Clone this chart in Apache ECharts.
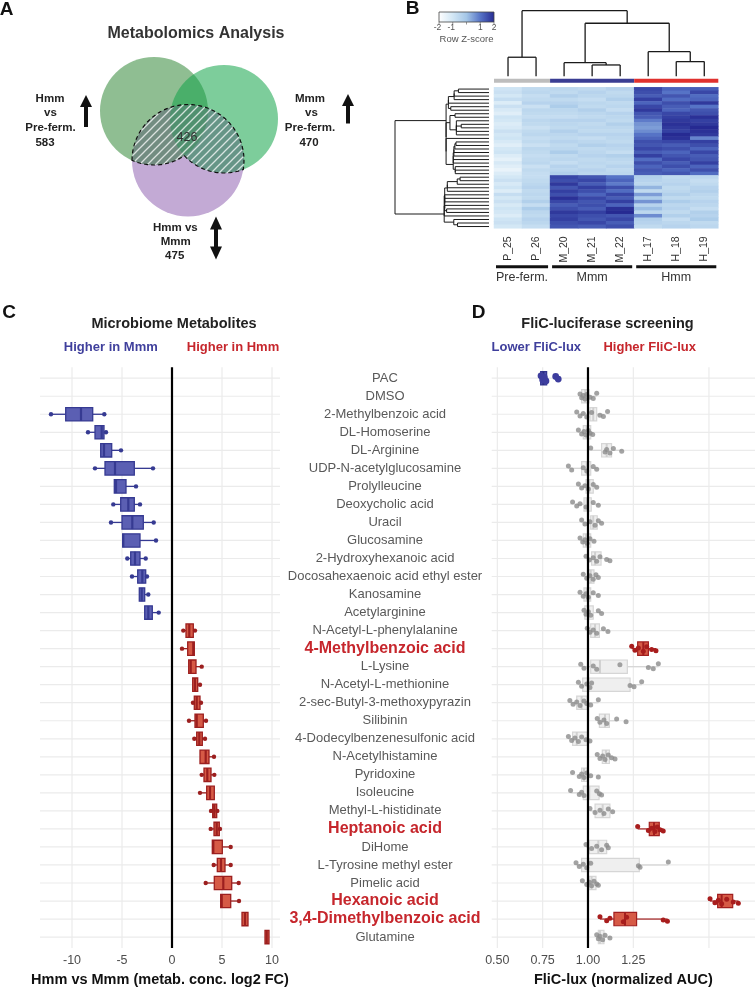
<!DOCTYPE html>
<html><head><meta charset="utf-8">
<script src="https://cdn.jsdelivr.net/npm/echarts@6/dist/echarts.min.js"></script>
<style>html,body{margin:0;padding:0;background:#fff}#c{width:756px;height:992px}</style>
</head><body><div id="c"></div>
<script>
// ================= DATA =================
// Panel A (Venn)
const vennCounts = [583, 470, 475];
const vennShared = 426;

// Panel B (heatmap)
const sampleNames = ['P_25','P_26','M_20','M_21','M_22','H_17','H_18','H_19'];
const sampleGroups = ['Pre-ferm.','Pre-ferm.','Mmm','Mmm','Mmm','Hmm','Hmm','Hmm'];
const zKeyTicks = [-2,-1,1,2];
// hclust-style merges: negative = leaf (1-based), positive = earlier merge (1-based); third = height
const colMerge = [
  [-1,-2,2.89],[-4,-5,1.71],[-3,2,2.06],[-7,-8,2.22],[-6,4,3.74],[3,5,8.08],[1,6,10]
];
const zRows = [
  [-0.9,-0.6,-0.5,-0.6,-0.4,1.6,1.2,1.3],
  [-0.8,-0.5,-0.6,-0.4,-0.6,1.5,1.0,1.6],
  [-1.0,-0.7,-0.3,-0.5,-0.5,1.3,1.4,1.1],
  [-0.7,-0.6,-0.6,-0.7,-0.3,1.7,1.1,1.2],
  [-1.2,-0.4,-0.4,-0.5,-0.6,1.2,1.5,1.8],
  [-0.8,-0.8,-0.2,-0.6,-0.5,1.6,1.3,1.0],
  [-1.1,-0.5,-0.5,-0.3,-0.7,1.8,1.2,1.4],
  [-1.3,-0.6,-0.6,-0.5,-0.4,1.4,1.6,1.5],
  [-0.9,-0.7,-0.7,-0.6,-0.5,1.3,1.7,1.9],
  [-1.0,-0.5,-0.4,-0.4,-0.6,0.9,1.8,1.7],
  [-1.2,-0.6,-0.5,-0.6,-0.3,0.6,1.9,1.8],
  [-1.1,-0.8,-0.6,-0.5,-0.5,0.5,1.8,2.0],
  [-0.8,-0.6,-0.3,-0.6,-0.6,0.7,1.7,1.9],
  [-1.0,-0.5,-0.5,-0.4,-0.4,1.0,2.0,1.8],
  [-0.9,-0.7,-0.6,-0.7,-0.5,1.2,1.9,0.8],
  [-1.1,-0.6,-0.4,-0.5,-0.6,1.5,1.6,1.7],
  [-1.3,-0.8,-0.6,-0.3,-0.4,1.4,1.3,1.5],
  [-1.0,-0.5,-0.5,-0.6,-0.5,1.6,1.5,1.2],
  [-0.9,-0.6,-0.2,-0.5,-0.7,1.3,1.2,1.6],
  [-1.2,-0.7,-0.6,-0.4,-0.3,1.7,1.4,1.3],
  [-1.4,-0.6,-0.5,-0.6,-0.5,1.1,1.6,1.4],
  [-1.1,-0.5,-0.7,-0.5,-0.6,1.5,1.3,1.7],
  [-1.3,-0.8,-0.4,-0.6,-0.4,1.2,1.5,1.2],
  [-1.5,-0.6,-0.5,-0.4,-0.6,1.4,1.2,1.5],
  [-1.2,-0.7,-0.3,-0.5,-0.5,1.3,1.4,1.1],
  [-1.0,-0.7,1.6,1.4,1.0,-0.3,-0.6,-0.5],
  [-0.8,-0.6,1.5,1.6,1.2,-0.4,-0.5,-0.7],
  [-1.1,-0.5,1.8,1.3,0.9,-0.5,-0.4,-0.6],
  [-0.9,-0.4,1.4,1.7,1.5,0.2,-0.6,-0.4],
  [-1.2,-0.6,1.7,1.5,1.1,-0.6,-0.5,-0.3],
  [-0.7,-0.5,1.5,1.2,1.6,0.5,-0.3,-0.5],
  [-1.0,-0.6,1.9,1.6,1.3,-0.2,-0.6,-0.6],
  [-0.8,-0.3,1.6,1.4,1.7,0.6,-0.2,-0.4],
  [-1.1,-0.7,1.3,1.5,1.2,-0.4,-0.5,-0.5],
  [-0.9,-0.2,1.5,1.3,1.9,0.1,-0.4,-0.7],
  [-1.0,-0.5,1.8,1.7,2.0,-0.5,-0.6,-0.3],
  [-1.2,-0.6,1.6,1.5,1.4,0.7,-0.3,-0.4],
  [-0.9,-0.4,1.7,1.4,1.6,-0.3,-0.7,-0.2],
  [-0.8,-0.5,1.5,1.6,1.3,-0.4,-0.5,-0.6],
  [-1.0,-0.7,1.4,1.3,1.5,-0.6,-0.4,-0.5]
];

// Panels C & D (shared categories)
const metabolites = ['PAC','DMSO','2-Methylbenzoic acid','DL-Homoserine','DL-Arginine','UDP-N-acetylglucosamine','Prolylleucine','Deoxycholic acid','Uracil','Glucosamine','2-Hydroxyhexanoic acid','Docosahexaenoic acid ethyl ester','Kanosamine','Acetylarginine','N-Acetyl-L-phenylalanine','4-Methylbenzoic acid','L-Lysine','N-Acetyl-L-methionine','2-sec-Butyl-3-methoxypyrazin','Silibinin','4-Dodecylbenzenesulfonic acid','N-Acetylhistamine','Pyridoxine','Isoleucine','Methyl-L-histidinate','Heptanoic acid','DiHome','L-Tyrosine methyl ester','Pimelic acid','Hexanoic acid','3,4-Dimethylbenzoic acid','Glutamine'];
const highlighted = ['4-Methylbenzoic acid','Heptanoic acid','Hexanoic acid','3,4-Dimethylbenzoic acid'];
const lowerHits = ['PAC'];

// Panel C: log2 FC box stats
const fcLow  = [null,null,-12.1,-8.4,-7.13,-7.7,-5.77,-5.87,-6.1,-4.93,-4.47,-4.0,-3.27,-2.73,1.13,1.0,1.67,2.07,2.1,1.7,2.23,2.8,2.97,2.8,3.9,3.87,4.03,4.17,3.37,4.87,7.0,9.3];
const fcQ1   = [null,null,-10.63,-7.7,-7.13,-6.7,-5.77,-5.13,-5.0,-4.93,-4.13,-3.43,-3.27,-2.73,1.4,1.57,1.67,2.07,2.23,2.3,2.47,2.8,3.2,3.47,4.07,4.2,4.03,4.53,4.23,4.87,7.0,9.3];
const fcMed  = [null,null,-9.1,-7.03,-6.8,-5.7,-5.6,-4.37,-3.97,-4.87,-3.7,-2.97,-3.03,-2.37,1.73,2.13,1.87,2.3,2.47,2.47,2.73,3.37,3.53,3.8,4.23,4.47,4.13,4.9,5.13,4.97,7.3,9.47];
const fcQ3   = [null,null,-7.93,-6.8,-6.03,-3.77,-4.6,-3.77,-2.87,-3.2,-3.2,-2.63,-2.73,-1.97,2.13,2.23,2.4,2.57,2.8,3.13,3.03,3.7,3.9,4.23,4.47,4.73,5.03,5.3,5.97,5.87,7.6,9.7];
const fcHigh = [null,null,-6.77,-6.6,-5.1,-1.9,-3.6,-3.2,-1.83,-1.6,-2.63,-2.5,-2.37,-1.33,2.3,2.23,2.97,2.8,2.9,3.4,3.3,4.2,4.23,4.23,4.53,4.8,5.87,5.87,6.67,6.7,7.6,9.7];
const fcTicks = [-10,-5,0,5,10];

// Panel D: FliC-lux normalized AUC
const luxQ1  = [0.739,0.965,1.011,0.974,1.075,0.965,0.989,0.978,1.015,0.974,1.02,1.002,0.978,0.983,1.015,1.274,1.015,0.971,0.938,1.063,0.915,1.079,0.965,0.974,1.039,1.338,1.007,0.965,1.007,1.715,1.143,1.057];
const luxMed = [0.754,0.985,1.029,0.993,1.103,0.993,1.007,0.993,1.029,0.989,1.039,1.015,0.993,1.002,1.039,1.305,1.066,1.002,0.965,1.094,0.938,1.099,0.978,1.007,1.081,1.364,1.057,1.002,1.02,1.737,1.204,1.066];
const luxQ3  = [0.772,1.006,1.048,1.015,1.13,1.015,1.029,1.018,1.051,1.015,1.072,1.033,1.015,1.029,1.063,1.333,1.217,1.232,0.996,1.118,0.996,1.118,0.996,1.061,1.121,1.393,1.103,1.283,1.044,1.798,1.268,1.088];
const luxPoints = [
  [0.741,0.75,0.759,0.768,0.822,0.836],
  [0.956,0.965,0.974,0.983,0.993,1.011,1.029,1.048],
  [0.938,0.956,0.974,0.993,1.02,1.066,1.085,1.108],
  [0.947,0.965,0.978,0.989,1.002,1.011,1.026],
  [1.015,1.094,1.103,1.121,1.14,1.186],
  [0.892,0.91,0.974,0.993,1.029,1.048],
  [0.947,0.965,0.983,1.002,1.029,1.048],
  [0.915,0.938,0.956,0.989,1.029,1.057],
  [0.965,0.983,1.011,1.039,1.057,1.075],
  [0.956,0.971,0.983,0.996,1.011,1.033],
  [0.989,1.007,1.029,1.048,1.066,1.103,1.121],
  [0.974,0.993,1.011,1.029,1.044,1.057],
  [0.956,0.974,0.989,1.002,1.029,1.057],
  [0.978,0.989,1.002,1.015,1.057,1.075],
  [0.996,1.011,1.029,1.048,1.085,1.11],
  [1.241,1.259,1.278,1.305,1.324,1.351,1.375],
  [0.96,0.978,1.029,1.048,1.176,1.333,1.36,1.388],
  [0.947,0.965,0.993,1.011,1.02,1.232,1.254,1.296],
  [0.9,0.918,0.938,0.956,0.978,0.993,1.015,1.057],
  [1.051,1.066,1.088,1.103,1.158,1.21],
  [0.892,0.91,0.928,0.947,0.965,0.989,1.011],
  [1.051,1.066,1.081,1.094,1.112,1.13,1.149],
  [0.915,0.952,0.965,0.978,0.993,1.015,1.057],
  [0.904,0.952,0.965,0.978,1.048,1.063,1.075],
  [1.011,1.039,1.066,1.088,1.112,1.136],
  [1.274,1.333,1.351,1.369,1.382,1.397,1.415],
  [0.989,1.02,1.048,1.075,1.103,1.112],
  [0.934,0.952,0.974,0.993,1.015,1.278,1.287,1.443],
  [0.969,0.993,1.007,1.02,1.033,1.048,1.057],
  [1.673,1.7,1.719,1.737,1.765,1.801,1.829],
  [1.066,1.103,1.121,1.195,1.213,1.415,1.438],
  [1.048,1.057,1.066,1.081,1.094,1.121]
];
const luxTicks = [0.5,0.75,1,1.25];
const luxGridLines = [0.5,0.75,1.25,1.667];

// ================= STYLE / HELPERS =================
const FONT = "'Liberation Sans', Arial, Helvetica, sans-serif";
const BLUE = '#3f3f9c', RED = '#c6262c';
const JIT = [-0.13, 0.09, -0.04, 0.15, -0.1, 0.05, 0.12, -0.16, 0.02];

function T(x, y, text, size, o) {
  o = o || {};
  return {type:'text', x:x, y:y, z:10, silent:true, style:{text:text, fontSize:size, fontFamily:FONT,
    fontWeight:o.bold?'bold':'normal', fill:o.color||'#222', align:o.align||'center', verticalAlign:'middle'}};
}

// ---- Venn geometry (circles: centre + radius) ----
const CL = {c:[154,111], r:54}, CR = {c:[224,119], r:54}, CB = {c:[188,160.5], r:56};
function inter(A, B) {
  const dx=B.c[0]-A.c[0], dy=B.c[1]-A.c[1], d=Math.hypot(dx,dy);
  const a=(A.r*A.r-B.r*B.r+d*d)/(2*d), h=Math.sqrt(A.r*A.r-a*a);
  const mx=A.c[0]+a*dx/d, my=A.c[1]+a*dy/d;
  return [[mx-h*dy/d, my+h*dx/d],[mx+h*dy/d, my-h*dx/d]];
}
const ang=(C,p)=>Math.atan2(p[1]-C.c[1],p[0]-C.c[0]);
function arc(C,a0,a1){const p=[];for(let i=0;i<=48;i++){const a=a0+(a1-a0)*i/48;p.push([C.c[0]+C.r*Math.cos(a),C.c[1]+C.r*Math.sin(a)]);}return p;}
const iLB = inter(CL,CB), iRB = inter(CR,CB), iLR = inter(CL,CR);
const P1 = iLB[0][0] < iLB[1][0] ? iLB[0] : iLB[1];
const P2 = iRB[0][0] > iRB[1][0] ? iRB[0] : iRB[1];
const P3 = iLR[0][1] > iLR[1][1] ? iLR[0] : iLR[1];
let b0=ang(CB,P1), b1=ang(CB,P2); while(b1<=b0) b1+=2*Math.PI;
let r0=ang(CR,P2), r1=ang(CR,P3); while(r1<=r0) r1+=2*Math.PI;
let l0=ang(CL,P3), l1=ang(CL,P1); while(l1<=l0) l1+=2*Math.PI;
const hatchPts = arc(CB,b0,b1).concat(arc(CR,r0,r1), arc(CL,l0,l1));

const pc = document.createElement('canvas'); pc.width = 8; pc.height = 8;
const pctx = pc.getContext('2d');
pctx.strokeStyle = 'rgba(255,255,255,0.75)'; pctx.lineWidth = 1.3;
pctx.beginPath(); pctx.moveTo(-1,9); pctx.lineTo(9,-1); pctx.moveTo(-1,1); pctx.lineTo(1,-1); pctx.moveTo(7,9); pctx.lineTo(9,7); pctx.stroke();

function upArrow(x, yTop, yBot) {
  return [
    {type:'rect', shape:{x:x-2, y:yTop+10, width:4, height:yBot-yTop-10}, style:{fill:'#111'}},
    {type:'polygon', shape:{points:[[x,yTop],[x-6,yTop+12],[x+6,yTop+12]]}, style:{fill:'#111'}}
  ];
}
function dblArrow(x, yTop, yBot) {
  return [
    {type:'rect', shape:{x:x-2, y:yTop+10, width:4, height:yBot-yTop-20}, style:{fill:'#111'}},
    {type:'polygon', shape:{points:[[x,yTop],[x-6,yTop+13],[x+6,yTop+13]]}, style:{fill:'#111'}},
    {type:'polygon', shape:{points:[[x,yBot],[x-6,yBot-13],[x+6,yBot-13]]}, style:{fill:'#111'}}
  ];
}

// ---- Dendrograms ----
function colDendSegs() {
  const pos=[], ht=[], segs=[];
  const nx=r=>r<0?-r-1:pos[r-1], nh=r=>r<0?0:ht[r-1];
  colMerge.forEach(function(m,i){
    const xa=nx(m[0]), xb=nx(m[1]), ha=nh(m[0]), hb=nh(m[1]), h=m[2];
    segs.push([[xa,ha],[xa,h]],[[xb,hb],[xb,h]],[[xa,h],[xb,h]]);
    pos[i]=(xa+xb)/2; ht[i]=h;
  });
  return segs;
}
// contiguous average-linkage clustering of heatmap rows; heights shown on sqrt scale
function rowDend(rows) {
  let cl = rows.map((r,i)=>({m:[i], y:i, h:0}));
  const segs=[];
  const dist=(a,b)=>{let s=0;a.m.forEach(i=>b.m.forEach(j=>{s+=Math.hypot.apply(null,rows[i].map((v,k)=>v-rows[j][k]));}));return s/(a.m.length*b.m.length);};
  while(cl.length>1){
    let bi=0, bd=Infinity;
    for(let i=0;i<cl.length-1;i++){const d=dist(cl[i],cl[i+1]); if(d<bd){bd=d;bi=i;}}
    const a=cl[bi], b=cl[bi+1], h=Math.max(Math.sqrt(bd),a.h,b.h);
    segs.push([[a.h,a.y],[h,a.y]],[[b.h,b.y],[h,b.y]],[[h,a.y],[h,b.y]]);
    cl.splice(bi,2,{m:a.m.concat(b.m), y:(a.y+b.y)/2, h:h});
  }
  return {segs:segs, root:cl[0].h};
}
const cSegs = colDendSegs();
const rD = rowDend(zRows);

function segRenderer(segs, lw) {
  return function(params, api){
    return {type:'group', children: segs.map(s=>{const a=api.coord(s[0]), b=api.coord(s[1]);
      return {type:'line', shape:{x1:a[0],y1:a[1],x2:b[0],y2:b[1]}, style:{stroke:'#1a1a1a', lineWidth:lw}};})};
  };
}

// sample groups (contiguous)
const groups = [];
sampleGroups.forEach((g,i)=>{ if(!groups.length || groups[groups.length-1].name!==g) groups.push({name:g,start:i,end:i}); else groups[groups.length-1].end=i; });
const groupColors = {'Pre-ferm.':'#bdbdbd','Mmm':'#3a3d93','Hmm':'#e0312e'};

// heatmap data
const heatData = [];
zRows.forEach((r,ri)=>r.forEach((v,ci)=>heatData.push([ci,ri,v])));
const heatColors = ['#ffffff','#d3e7f5','#a4c6e7','#5673c6','#262a92'];

// C box data
const cData = [];
metabolites.forEach((m,i)=>{ if(fcMed[i]!=null) cData.push([fcLow[i],fcQ1[i],fcMed[i],fcQ3[i],fcHigh[i],i]); });
// D data
const dData = metabolites.map((m,i)=>[luxQ1[i],luxMed[i],luxQ3[i],i]);
const dPts = [];
luxPoints.forEach((ps,i)=>ps.forEach((v,k)=>dPts.push([v,i,k])));
function luxClass(i){ return highlighted.indexOf(metabolites[i])>=0?'hi':(lowerHits.indexOf(metabolites[i])>=0?'lo':'ns'); }
function whisk(i){
  const q1=luxQ1[i], q3=luxQ3[i], iqr=q3-q1, ps=luxPoints[i];
  const inL=ps.filter(p=>p>=q1-1.5*iqr), inH=ps.filter(p=>p<=q3+1.5*iqr);
  return [Math.min(q1, Math.min.apply(null,inL)), Math.max(q3, Math.max.apply(null,inH))];
}

// gridline renderers
function hLines(params, api){
  const cs=params.coordSys, y=api.coord([0,api.value(1)])[1];
  return {type:'line', shape:{x1:cs.x,y1:y,x2:cs.x+cs.width,y2:y}, style:{stroke:'#ebebeb', lineWidth:1.2}};
}
function vLineR(color, lw){
  return function(params, api){
    const cs=params.coordSys, x=api.coord([api.value(0),0])[0];
    return {type:'line', shape:{x1:x,y1:cs.y-2,x2:x,y2:cs.y+cs.height+2}, style:{stroke:color, lineWidth:lw}};
  };
}

function renderC(params, api){
  const cat=api.value(5), lo=api.value(0), q1=api.value(1), md=api.value(2), q3=api.value(3), hi=api.value(4);
  const yc=api.coord([0,cat])[1], half=api.size([0,1])[1]*0.37;
  const X=v=>api.coord([v,cat])[0];
  const pos=md>0, fill=pos?'#d65a46':'#5b5fb3', stroke=pos?'#9c1f1f':'#363a92';
  const ch=[];
  if(lo<q1) ch.push({type:'line', shape:{x1:X(lo),y1:yc,x2:X(q1),y2:yc}, style:{stroke:stroke,lineWidth:1.3}});
  if(hi>q3) ch.push({type:'line', shape:{x1:X(q3),y1:yc,x2:X(hi),y2:yc}, style:{stroke:stroke,lineWidth:1.3}});
  ch.push({type:'rect', shape:{x:X(q1),y:yc-half,width:Math.max(1,X(q3)-X(q1)),height:2*half}, style:{fill:fill,stroke:stroke,lineWidth:1.3}});
  ch.push({type:'line', shape:{x1:X(md),y1:yc-half,x2:X(md),y2:yc+half}, style:{stroke:stroke,lineWidth:2.2}});
  if(lo<q1) ch.push({type:'circle', shape:{cx:X(lo),cy:yc,r:2.2}, style:{fill:stroke}});
  if(hi>q3) ch.push({type:'circle', shape:{cx:X(hi),cy:yc,r:2.2}, style:{fill:stroke}});
  return {type:'group', children:ch};
}
const DSTY = {
  ns:{fill:'#efefef', stroke:'#d6d6d6', med:'#d0d0d0', pt:'rgba(140,140,140,0.8)', r:2.5},
  hi:{fill:'#d65a46', stroke:'#a11f1f', med:'#a11f1f', pt:'#a81d1d', r:2.5},
  lo:{fill:'#4f52ad', stroke:'#34378f', med:'#2a2d80', pt:'#3d3d9e', r:3.4}
};
function renderDBox(params, api){
  const cat=api.value(3), q1=api.value(0), md=api.value(1), q3=api.value(2);
  const s=DSTY[luxClass(cat)], w=whisk(cat);
  const yc=api.coord([1,cat])[1], half=api.size([0,1])[1]*0.37;
  const X=v=>api.coord([v,cat])[0];
  return {type:'group', children:[
    {type:'line', shape:{x1:X(w[0]),y1:yc,x2:X(q1),y2:yc}, style:{stroke:s.stroke,lineWidth:1.2}},
    {type:'line', shape:{x1:X(q3),y1:yc,x2:X(w[1]),y2:yc}, style:{stroke:s.stroke,lineWidth:1.2}},
    {type:'rect', shape:{x:X(q1),y:yc-half,width:X(q3)-X(q1),height:2*half}, style:{fill:s.fill,stroke:s.stroke,lineWidth:1.2}},
    {type:'line', shape:{x1:X(md),y1:yc-half,x2:X(md),y2:yc+half}, style:{stroke:s.med,lineWidth:2}}
  ]};
}
function renderDPts(params, api){
  const v=api.value(0), cat=api.value(1), k=api.value(2);
  const s=DSTY[luxClass(cat)], p=api.coord([v,cat]), bw=api.size([0,1])[1];
  return {type:'circle', shape:{cx:p[0], cy:p[1]+JIT[k%JIT.length]*bw, r:s.r}, style:{fill:s.pt}};
}

// ================= GRAPHIC (panel A, titles, key) =================
const keyX = v => 439 + (v+2)/4*55;
const graphics = [
  {type:'circle', shape:{cx:CB.c[0],cy:CB.c[1],r:CB.r}, style:{fill:'#c3aad5'}},
  {type:'circle', shape:{cx:CL.c[0],cy:CL.c[1],r:CL.r}, style:{fill:'rgba(51,137,57,0.55)'}},
  {type:'circle', shape:{cx:CR.c[0],cy:CR.c[1],r:CR.r}, style:{fill:'rgba(19,164,73,0.55)'}},
  {type:'polygon', shape:{points:hatchPts}, style:{fill:'rgba(110,122,135,0.38)'}},
  {type:'polygon', shape:{points:hatchPts}, style:{fill:{image:pc, repeat:'repeat'}}},
  {type:'polygon', shape:{points:hatchPts}, style:{fill:null, stroke:'#111', lineWidth:1.2, lineDash:[4,3]}},
  T(187,138,String(vennShared),12.5,{color:'#333'}),
  T(6.5,10,'A',19,{bold:true,color:'#111'}),
  T(196,34,'Metabolomics Analysis',16,{bold:true,color:'#333'}),
  T(50,99,'Hmm',11.5,{bold:true}), T(50.5,113,'vs',11.5,{bold:true}), T(50.5,128,'Pre-ferm.',11.5,{bold:true}), T(45,143,String(vennCounts[0]),11.5,{bold:true}),
  T(310,99.3,'Mmm',11.5,{bold:true}), T(311.5,113,'vs',11.5,{bold:true}), T(310,128,'Pre-ferm.',11.5,{bold:true}), T(309,143,String(vennCounts[1]),11.5,{bold:true}),
  T(175.3,228.3,'Hmm vs',11.5,{bold:true}), T(175.8,242.3,'Mmm',11.5,{bold:true}), T(174.7,256,String(vennCounts[2]),11.5,{bold:true}),
].concat(upArrow(86,95,127), upArrow(348,94,123.5), dblArrow(216,216.5,259.5), [
  T(412.5,9,'B',19,{bold:true,color:'#111'}),
  {type:'rect', shape:{x:keyX(-2),y:12,width:keyX(2)-keyX(-2),height:10}, style:{fill:{type:'linear',x:0,y:0,x2:1,y2:0,colorStops:heatColors.map((c,i)=>({offset:i/(heatColors.length-1),color:c}))}, stroke:'#444', lineWidth:0.8}},
], zKeyTicks.concat([0]).map(v=>({type:'line', shape:{x1:keyX(v),y1:22,x2:keyX(v),y2:24.5}, style:{stroke:'#666',lineWidth:0.7}})),
zKeyTicks.map(v=>T(keyX(v)-(v<0?1.5:0),28,String(v),8.5,{color:'#555'})), [
  T(466.5,39,'Row Z-score',9.5,{color:'#555'}),
  T(9.2,312.5,'C',19,{bold:true,color:'#111'}),
  T(478.7,312.5,'D',19,{bold:true,color:'#111'}),
  T(174,324.3,'Microbiome Metabolites',14.5,{bold:true,color:'#222'}),
  T(110.8,347.7,'Higher in Mmm',13,{bold:true,color:BLUE}),
  T(233,347.7,'Higher in Hmm',13,{bold:true,color:RED}),
  T(607.5,324.3,'FliC-luciferase screening',14.5,{bold:true,color:'#222'}),
  T(536.3,347.7,'Lower FliC-lux',13,{bold:true,color:BLUE}),
  T(649.7,347.7,'Higher FliC-lux',13,{bold:true,color:RED})
]);

// ================= OPTION =================
const noAx = {axisLine:{show:false}, axisTick:{show:false}, splitLine:{show:false}};
const option = {
  animation:false,
  textStyle:{fontFamily:FONT},
  graphic:{elements:graphics},
  visualMap:{type:'continuous', show:false, min:-2, max:2, seriesIndex:0, inRange:{color:heatColors}},
  grid:[
    {left:494, top:87.3, width:224.3, height:141},
    {left:494, top:10.7, width:224.3, height:72},
    {left:395, top:87.3, width:94, height:141},
    {left:40, top:369.2, width:240, height:581.4},
    {left:491.7, top:369.2, width:263.3, height:581.4}
  ],
  xAxis:[
    Object.assign({gridIndex:0, type:'category', data:sampleNames, axisLabel:{rotate:90, interval:0, fontSize:10.5, color:'#333', margin:8}}, noAx),
    {gridIndex:1, type:'value', min:-0.5, max:7.5, show:false},
    {gridIndex:2, type:'value', min:0, max:rD.root, inverse:true, show:false},
    Object.assign({gridIndex:3, type:'value', min:-13.2, max:10.8,
      axisLabel:{customValues:fcTicks, fontSize:12.5, color:'#4d4d4d', margin:8},
      name:'Hmm vs Mmm (metab. conc. log2 FC)', nameLocation:'middle', nameGap:25,
      nameTextStyle:{fontSize:14.5, fontWeight:'bold', color:'#111'}}, noAx),
    Object.assign({gridIndex:4, type:'value', min:0.469, max:1.921,
      axisLabel:{customValues:luxTicks, formatter:v=>Number(v).toFixed(2), fontSize:12.5, color:'#4d4d4d', margin:8},
      name:'FliC-lux (normalized AUC)', nameLocation:'middle', nameGap:25,
      nameTextStyle:{fontSize:14.5, fontWeight:'bold', color:'#111'}}, noAx)
  ],
  yAxis:[
    {gridIndex:0, type:'category', data:zRows.map((r,i)=>'row'+i), inverse:true, show:false},
    {gridIndex:1, type:'value', min:-1, max:10, show:false},
    {gridIndex:2, type:'value', min:-0.5, max:zRows.length-0.5, inverse:true, show:false},
    Object.assign({gridIndex:3, type:'category', data:metabolites, inverse:true, axisLabel:{show:false}}, noAx),
    Object.assign({gridIndex:4, type:'category', data:metabolites, inverse:true,
      axisLabel:{interval:0, align:'center', margin:106.7,
        formatter:v=>highlighted.indexOf(v)>=0?'{hi|'+v+'}':'{n|'+v+'}',
        rich:{n:{fontSize:13, color:'#595959', fontFamily:FONT}, hi:{fontSize:16, fontWeight:'bold', color:RED, fontFamily:FONT}}}}, noAx)
  ],
  series:[
    {type:'heatmap', xAxisIndex:0, yAxisIndex:0, data:heatData, silent:true, itemStyle:{borderWidth:0}},
    {type:'custom', xAxisIndex:1, yAxisIndex:1, silent:true, data:[[0,0]], renderItem:segRenderer(cSegs,1.3)},
    {type:'custom', xAxisIndex:1, yAxisIndex:1, silent:true, data:groups.map(g=>[g.start,g.end]),
      renderItem:function(params, api){
        const g=groups[params.dataIndex];
        const a=api.coord([g.start-0.5,-1]), b=api.coord([g.end+0.5,-0.4]);
        return {type:'rect', shape:{x:a[0], y:b[1], width:b[0]-a[0], height:a[1]-b[1]}, style:{fill:groupColors[g.name]}};
      }},
    {type:'custom', xAxisIndex:2, yAxisIndex:2, silent:true, data:[[0,0]], renderItem:segRenderer(rD.segs,1)},
    {type:'custom', xAxisIndex:0, yAxisIndex:0, silent:true, data:groups.map(g=>[g.start,0]),
      renderItem:function(params, api){
        const g=groups[params.dataIndex], cs=params.coordSys, bw=api.size([1,0])[0];
        const x0=api.coord([g.start,0])[0]-bw/2+2, x1=api.coord([g.end,0])[0]+bw/2-2, yb=cs.y+cs.height;
        return {type:'group', children:[
          {type:'line', shape:{x1:x0,y1:yb+38.4,x2:x1,y2:yb+38.4}, style:{stroke:'#111',lineWidth:3}},
          {type:'text', x:(x0+x1)/2, y:yb+49.5, style:{text:g.name, fontSize:12.5, fontFamily:FONT, fill:'#333', align:'center', verticalAlign:'middle'}}
        ]};
      }},
    {type:'custom', xAxisIndex:3, yAxisIndex:3, silent:true, data:metabolites.map((m,i)=>[0,i]), renderItem:hLines, z:1},
    {type:'custom', xAxisIndex:3, yAxisIndex:3, silent:true, data:fcTicks.filter(v=>v!==0).map(v=>[v,0]), renderItem:vLineR('#ebebeb',1.2), z:1},
    {type:'custom', xAxisIndex:3, yAxisIndex:3, silent:true, data:cData, encode:{x:[0,1,2,3,4], y:5}, renderItem:renderC, z:3},
    {type:'custom', xAxisIndex:4, yAxisIndex:4, silent:true, data:metabolites.map((m,i)=>[1,i]), renderItem:hLines, z:1},
    {type:'custom', xAxisIndex:4, yAxisIndex:4, silent:true, data:luxGridLines.map(v=>[v,0]), renderItem:vLineR('#ebebeb',1.2), z:1},
    {type:'custom', xAxisIndex:4, yAxisIndex:4, silent:true, data:dData, encode:{x:[0,1,2], y:3}, renderItem:renderDBox, z:3},
    {type:'custom', xAxisIndex:4, yAxisIndex:4, silent:true, data:dPts, encode:{x:0, y:1}, renderItem:renderDPts, z:4},
    {type:'custom', xAxisIndex:3, yAxisIndex:3, silent:true, data:[[0,0]], renderItem:vLineR('#000',2.2), z:5},
    {type:'custom', xAxisIndex:4, yAxisIndex:4, silent:true, data:[[1,0]], renderItem:vLineR('#000',2.2), z:5}
  ]
};
const chart = echarts.init(document.getElementById('c'), null, {renderer:'canvas', width:756, height:992});
chart.setOption(option);
</script>
</body></html>
